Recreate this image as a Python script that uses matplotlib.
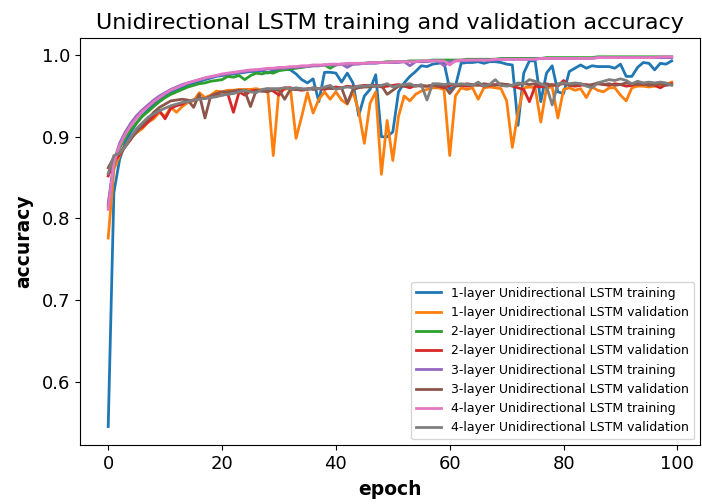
import matplotlib
matplotlib.use("Agg")
import matplotlib.pyplot as plt
import numpy as np

epochs = list(range(100))

train_1 = [0.545, 0.832, 0.872, 0.893, 0.906, 0.917, 0.926, 0.933, 0.940, 0.946,
           0.951, 0.955, 0.958, 0.961, 0.964, 0.966, 0.968, 0.970, 0.972, 0.974,
           0.975, 0.976, 0.977, 0.978, 0.979, 0.980, 0.980, 0.981, 0.978, 0.981,
           0.982, 0.983, 0.982, 0.977, 0.970, 0.966, 0.971, 0.943, 0.979, 0.979,
           0.978, 0.967, 0.978, 0.966, 0.926, 0.950, 0.958, 0.976, 0.900, 0.900,
           0.906, 0.955, 0.966, 0.974, 0.980, 0.987, 0.986, 0.989, 0.990, 0.991,
           0.958, 0.962, 0.990, 0.991, 0.991, 0.992, 0.990, 0.992, 0.992, 0.991,
           0.989, 0.988, 0.914, 0.978, 0.993, 0.993, 0.943, 0.978, 0.987, 0.955,
           0.953, 0.980, 0.984, 0.988, 0.984, 0.987, 0.986, 0.986, 0.986, 0.984,
           0.989, 0.974, 0.974, 0.985, 0.991, 0.990, 0.982, 0.990, 0.989, 0.993]

val_1 = [0.776, 0.860, 0.877, 0.889, 0.899, 0.905, 0.910, 0.918, 0.922, 0.930,
         0.925, 0.936, 0.930, 0.937, 0.942, 0.944, 0.954, 0.948, 0.951, 0.956,
         0.955, 0.957, 0.957, 0.958, 0.958, 0.958, 0.959, 0.957, 0.959, 0.877,
         0.958, 0.958, 0.960, 0.898, 0.925, 0.954, 0.929, 0.946, 0.955, 0.946,
         0.955, 0.945, 0.940, 0.955, 0.932, 0.892, 0.941, 0.955, 0.854, 0.920,
         0.871, 0.925, 0.950, 0.944, 0.952, 0.956, 0.958, 0.960, 0.960, 0.958,
         0.877, 0.950, 0.960, 0.958, 0.960, 0.946, 0.960, 0.961, 0.960, 0.959,
         0.944, 0.887, 0.930, 0.960, 0.961, 0.960, 0.918, 0.960, 0.961, 0.923,
         0.958, 0.960, 0.957, 0.959, 0.948, 0.961, 0.957, 0.955, 0.960, 0.960,
         0.951, 0.944, 0.960, 0.962, 0.962, 0.961, 0.962, 0.963, 0.964, 0.967]

train_2 = [0.815, 0.866, 0.886, 0.899, 0.909, 0.917, 0.925, 0.931, 0.937, 0.943,
           0.948, 0.952, 0.955, 0.958, 0.961, 0.963, 0.965, 0.966, 0.968, 0.969,
           0.970, 0.974, 0.973, 0.975, 0.970, 0.975, 0.978, 0.977, 0.979, 0.978,
           0.981, 0.982, 0.983, 0.984, 0.985, 0.986, 0.987, 0.987, 0.988, 0.984,
           0.988, 0.989, 0.989, 0.989, 0.990, 0.990, 0.991, 0.991, 0.991, 0.992,
           0.992, 0.992, 0.992, 0.993, 0.993, 0.993, 0.993, 0.994, 0.994, 0.994,
           0.994, 0.994, 0.994, 0.995, 0.995, 0.995, 0.995, 0.995, 0.995, 0.996,
           0.996, 0.996, 0.996, 0.996, 0.996, 0.996, 0.996, 0.997, 0.997, 0.997,
           0.997, 0.997, 0.997, 0.997, 0.997, 0.997, 0.998, 0.998, 0.998, 0.998,
           0.998, 0.998, 0.998, 0.998, 0.998, 0.998, 0.998, 0.998, 0.998, 0.998]

val_2 = [0.852, 0.870, 0.878, 0.888, 0.897, 0.908, 0.912, 0.918, 0.925, 0.932,
         0.922, 0.935, 0.938, 0.940, 0.944, 0.945, 0.947, 0.947, 0.949, 0.952,
         0.951, 0.953, 0.930, 0.955, 0.951, 0.956, 0.957, 0.956, 0.958, 0.956,
         0.951, 0.960, 0.960, 0.958, 0.957, 0.958, 0.960, 0.959, 0.958, 0.960,
         0.961, 0.960, 0.962, 0.961, 0.962, 0.963, 0.963, 0.963, 0.961, 0.962,
         0.963, 0.964, 0.962, 0.960, 0.963, 0.962, 0.962, 0.963, 0.962, 0.960,
         0.963, 0.964, 0.963, 0.962, 0.963, 0.964, 0.962, 0.963, 0.964, 0.963,
         0.964, 0.962, 0.960, 0.958, 0.943, 0.962, 0.961, 0.962, 0.964, 0.962,
         0.969, 0.963, 0.962, 0.963, 0.964, 0.962, 0.965, 0.964, 0.963, 0.965,
         0.964, 0.962, 0.963, 0.965, 0.964, 0.966, 0.963, 0.960, 0.964, 0.965]

train_3 = [0.818, 0.870, 0.892, 0.906, 0.917, 0.926, 0.933, 0.939, 0.945, 0.950,
           0.954, 0.958, 0.961, 0.964, 0.966, 0.968, 0.970, 0.972, 0.973, 0.975,
           0.976, 0.977, 0.978, 0.979, 0.980, 0.981, 0.982, 0.982, 0.983, 0.983,
           0.984, 0.984, 0.985, 0.985, 0.986, 0.986, 0.987, 0.987, 0.988, 0.988,
           0.988, 0.989, 0.985, 0.989, 0.989, 0.990, 0.990, 0.990, 0.991, 0.991,
           0.991, 0.991, 0.992, 0.987, 0.992, 0.992, 0.992, 0.993, 0.993, 0.987,
           0.992, 0.993, 0.993, 0.993, 0.994, 0.994, 0.994, 0.994, 0.994, 0.995,
           0.995, 0.995, 0.995, 0.995, 0.995, 0.995, 0.996, 0.996, 0.996, 0.996,
           0.996, 0.996, 0.996, 0.996, 0.996, 0.996, 0.997, 0.997, 0.997, 0.997,
           0.997, 0.997, 0.997, 0.997, 0.997, 0.997, 0.997, 0.997, 0.997, 0.997]

val_3 = [0.862, 0.875, 0.880, 0.889, 0.898, 0.906, 0.915, 0.922, 0.930, 0.936,
         0.940, 0.944, 0.945, 0.946, 0.945, 0.936, 0.952, 0.923, 0.950, 0.953,
         0.955, 0.955, 0.956, 0.957, 0.956, 0.937, 0.957, 0.956, 0.955, 0.958,
         0.957, 0.946, 0.958, 0.958, 0.958, 0.959, 0.958, 0.959, 0.960, 0.959,
         0.959, 0.960, 0.941, 0.958, 0.960, 0.961, 0.961, 0.962, 0.963, 0.952,
         0.957, 0.962, 0.962, 0.963, 0.962, 0.963, 0.962, 0.963, 0.962, 0.963,
         0.953, 0.962, 0.963, 0.965, 0.964, 0.963, 0.965, 0.964, 0.963, 0.965,
         0.964, 0.963, 0.964, 0.965, 0.964, 0.965, 0.964, 0.965, 0.963, 0.964,
         0.965, 0.963, 0.964, 0.965, 0.963, 0.964, 0.966, 0.964, 0.965, 0.963,
         0.964, 0.966, 0.965, 0.964, 0.965, 0.963, 0.964, 0.965, 0.963, 0.964]

train_4 = [0.811, 0.868, 0.889, 0.903, 0.914, 0.923, 0.931, 0.937, 0.943, 0.948,
           0.953, 0.957, 0.960, 0.963, 0.966, 0.968, 0.970, 0.972, 0.974, 0.975,
           0.977, 0.978, 0.979, 0.980, 0.981, 0.982, 0.982, 0.983, 0.984, 0.984,
           0.985, 0.985, 0.986, 0.986, 0.987, 0.987, 0.988, 0.988, 0.988, 0.989,
           0.989, 0.989, 0.990, 0.990, 0.990, 0.990, 0.991, 0.991, 0.991, 0.991,
           0.992, 0.992, 0.992, 0.992, 0.992, 0.993, 0.993, 0.993, 0.993, 0.993,
           0.988, 0.993, 0.994, 0.994, 0.994, 0.994, 0.994, 0.994, 0.995, 0.995,
           0.995, 0.995, 0.995, 0.995, 0.995, 0.995, 0.996, 0.996, 0.996, 0.996,
           0.996, 0.996, 0.996, 0.996, 0.996, 0.996, 0.997, 0.997, 0.997, 0.997,
           0.997, 0.997, 0.997, 0.997, 0.997, 0.997, 0.997, 0.998, 0.998, 0.998]

val_4 = [0.855, 0.877, 0.880, 0.888, 0.900, 0.910, 0.917, 0.924, 0.928, 0.932,
         0.935, 0.938, 0.940, 0.942, 0.943, 0.945, 0.946, 0.947, 0.948, 0.949,
         0.951, 0.952, 0.953, 0.955, 0.957, 0.955, 0.954, 0.958, 0.959, 0.959,
         0.959, 0.960, 0.959, 0.960, 0.959, 0.958, 0.960, 0.959, 0.961, 0.963,
         0.958, 0.960, 0.961, 0.960, 0.962, 0.962, 0.963, 0.962, 0.963, 0.965,
         0.961, 0.963, 0.964, 0.965, 0.962, 0.964, 0.945, 0.965, 0.965, 0.964,
         0.965, 0.964, 0.965, 0.964, 0.963, 0.967, 0.962, 0.964, 0.970, 0.963,
         0.962, 0.963, 0.966, 0.965, 0.970, 0.968, 0.965, 0.962, 0.939, 0.965,
         0.966, 0.965, 0.966, 0.965, 0.962, 0.960, 0.966, 0.968, 0.970, 0.969,
         0.971, 0.969, 0.965, 0.968, 0.966, 0.967, 0.966, 0.967, 0.966, 0.963]

series = [
    ("1-layer Unidirectional LSTM training", train_1),
    ("1-layer Unidirectional LSTM validation", val_1),
    ("2-layer Unidirectional LSTM training", train_2),
    ("2-layer Unidirectional LSTM validation", val_2),
    ("3-layer Unidirectional LSTM training", train_3),
    ("3-layer Unidirectional LSTM validation", val_3),
    ("4-layer Unidirectional LSTM training", train_4),
    ("4-layer Unidirectional LSTM validation", val_4),
]

fig = plt.figure(figsize=(7.02, 5.04), dpi=100)
ax = fig.add_axes([0.114, 0.117, 0.883, 0.807])
for label, vals in series:
    ax.plot(epochs, vals, label=label, linewidth=2.0)

ax.set_title("Unidirectional LSTM training and validation accuracy", fontsize=16, pad=7)
ax.set_xlabel("epoch", fontsize=13.5, fontweight="bold", labelpad=5)
ax.set_ylabel("accuracy", fontsize=13.5, fontweight="bold", labelpad=6)
ax.tick_params(labelsize=13)
ax.set_yticks([0.6, 0.7, 0.8, 0.9, 1.0])
ax.legend(loc="lower right", fontsize=9, bbox_to_anchor=(1.0, 0.0),
          borderaxespad=0.45, handlelength=2.0)

fig.savefig("out.png", dpi=100)
